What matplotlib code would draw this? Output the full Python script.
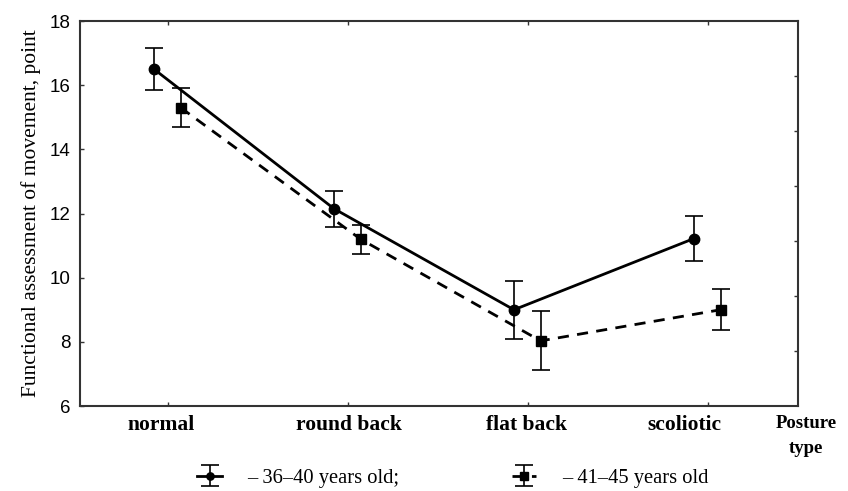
import matplotlib
matplotlib.use("Agg")
import matplotlib.pyplot as plt
import matplotlib.transforms as mtransforms
import numpy as np

categories = ["normal", "round back", "flat back", "scoliotic"]
mean_36_40 = [16.5, 12.15, 9.0, 11.22]
err_36_40 = [0.66, 0.56, 0.91, 0.70]
mean_41_45 = [15.3, 11.2, 8.03, 9.0]
err_41_45 = [0.60, 0.45, 0.92, 0.64]
labels = ["– 36–40 years old;", "– 41–45 years old"]
yticks = [6, 8, 10, 12, 14, 16, 18]

SERIF = ["Liberation Serif", "DejaVu Serif"]
SANS = ["Liberation Sans", "DejaVu Sans"]

fig = plt.figure(figsize=(8.48, 4.91), dpi=100)
ax = fig.add_axes([80/848, 1-406/491, 718/848, 385/491])

x = np.arange(len(categories))
off1, off2 = -0.078, 0.07

e1 = ax.errorbar(x + off1, mean_36_40, yerr=err_36_40, color="black", lw=2.0,
                 ls="-", marker="o", ms=7.5, capsize=6.5, elinewidth=1.2,
                 capthick=1.2, label=labels[0])
e2 = ax.errorbar(x + off2, mean_41_45, yerr=err_41_45, color="black", lw=2.0,
                 ls=(0, (4.0, 3.0)), marker="s", ms=7.5, capsize=6.5,
                 elinewidth=1.2, capthick=1.2, label=labels[1])

ax.set_xlim(-0.489, 3.5)
ax.set_ylim(6, 18)
ax.set_xticks(x)
ax.set_xticklabels([])
# category labels, with the small horizontal shifts seen in the reference
shifts_px = [-6.5, 1, -1.5, -24]
for xi, cat, dx in zip(x, categories, shifts_px):
    tr = ax.get_xaxis_transform() + mtransforms.ScaledTranslation(
        dx/100, -9/100, fig.dpi_scale_trans)
    ax.text(xi, 0, cat, transform=tr, ha="center", va="top",
            fontfamily=SERIF, fontweight="bold", fontsize=15.5)
ax.set_yticks(yticks)
ax.set_yticklabels([str(v) for v in yticks], fontfamily=SANS, fontsize=13.5)
ax.tick_params(direction="in", length=3, width=1, color="#333333",
               top=True, pad=6)
ax.tick_params(axis="y", pad=7)
for s in ax.spines.values():
    s.set_linewidth(1.5)
    s.set_color("#333333")

ax2 = ax.twinx()
ax2.set_ylim(0, 7)
ax2.set_yticks(range(1, 7))
ax2.set_yticklabels([])
ax2.tick_params(direction="in", length=3, width=1, color="#333333")
for s in ax2.spines.values():
    s.set_visible(False)

ax.set_ylabel("Functional assessment of movement, point", fontfamily=SERIF,
              fontsize=15.5, labelpad=6)

fig.text(806/848, 1-436/491, "Posture\ntype", fontfamily=SERIF,
         fontweight="bold", fontsize=13.5, ha="center", va="center",
         linespacing=1.6)

leg = fig.legend(handles=[e1, e2], labels=labels, loc="center",
                 bbox_to_anchor=(453/848, 1-478/491), ncol=2, frameon=False,
                 prop={"family": SERIF, "size": 14.8}, handlelength=1.17,
                 columnspacing=5.5, handletextpad=1.25, markerscale=0.7)

fig.savefig("out.png", dpi=100)
